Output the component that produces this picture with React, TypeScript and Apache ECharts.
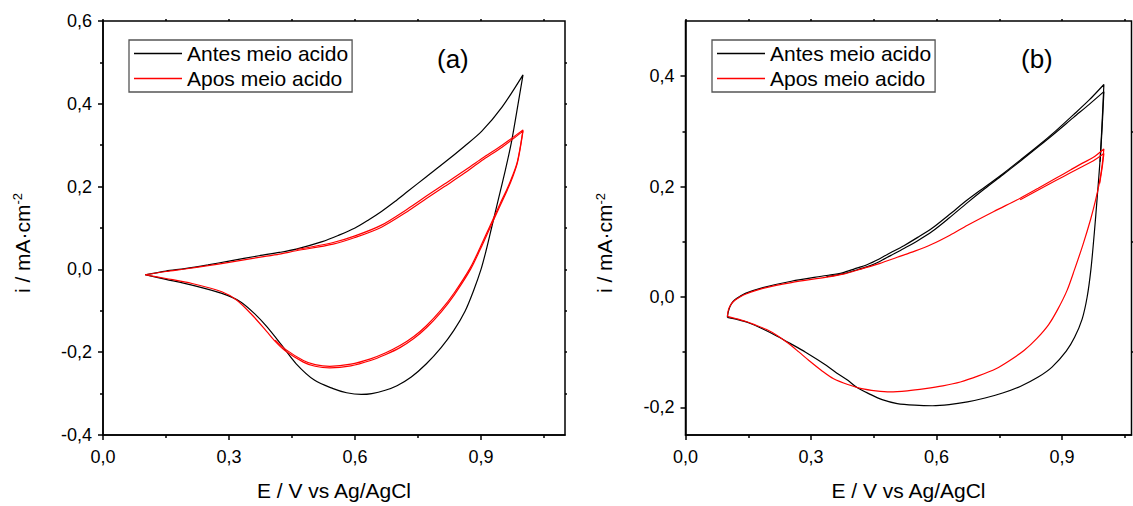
import React, { useEffect, useRef } from "react";
import * as echarts from "echarts";

// ---- Data (E / V, i / mA·cm-2) ----
const seriesNames = ["Antes meio acido", "Apos meio acido"];

// Panel (a), "Antes" loop
const antesA: number[][] = [
  [0.1, -0.013], [0.15, -0.004], [0.195, 0.002], [0.25, 0.011], [0.3, 0.02], [0.371, 0.033],
  [0.42, 0.041], [0.46, 0.049], [0.522, 0.067], [0.56, 0.082], [0.6, 0.1], [0.633, 0.12],
  [0.663, 0.14], [0.695, 0.164], [0.725, 0.188], [0.77, 0.224], [0.813, 0.258], [0.86, 0.297],
  [0.902, 0.334], [0.95, 0.392], [1.0, 0.47],
  [0.985, 0.38], [0.972, 0.305], [0.958, 0.24], [0.942, 0.172], [0.925, 0.1], [0.912, 0.045],
  [0.9, 0.0], [0.882, -0.052], [0.862, -0.101], [0.835, -0.148], [0.805, -0.189],
  [0.77, -0.228], [0.734, -0.26], [0.7, -0.281], [0.672, -0.292], [0.64, -0.3], [0.615, -0.302],
  [0.58, -0.298], [0.548, -0.288], [0.504, -0.268], [0.46, -0.228], [0.424, -0.181],
  [0.389, -0.137], [0.362, -0.108], [0.327, -0.078], [0.283, -0.058], [0.212, -0.038],
  [0.15, -0.024], [0.1, -0.013],
];

// Panel (a), "Apos" loop (two cycles, close together)
const aposA: number[][] = [
  [0.1, -0.013], [0.15, -0.005], [0.195, 0.001], [0.25, 0.009], [0.3, 0.017], [0.371, 0.029],
  [0.42, 0.037], [0.46, 0.045], [0.548, 0.061], [0.6, 0.077], [0.663, 0.102], [0.725, 0.14],
  [0.77, 0.171], [0.813, 0.2], [0.86, 0.232], [0.902, 0.263], [0.95, 0.295], [1.0, 0.334],
  [0.993, 0.29], [0.986, 0.255], [0.975, 0.222], [0.962, 0.19], [0.946, 0.155], [0.92, 0.097],
  [0.898, 0.048], [0.875, 0.0], [0.836, -0.062], [0.805, -0.103], [0.77, -0.141],
  [0.74, -0.167], [0.707, -0.189], [0.672, -0.206], [0.637, -0.22], [0.59, -0.233],
  [0.54, -0.238], [0.505, -0.234], [0.477, -0.224], [0.433, -0.196], [0.41, -0.174],
  [0.389, -0.149], [0.354, -0.109], [0.318, -0.074], [0.283, -0.054], [0.212, -0.034],
  [0.15, -0.022], [0.1, -0.013],
];
const aposA2: number[][] = [
  [0.46, 0.048], [0.548, 0.065], [0.6, 0.081], [0.663, 0.107], [0.725, 0.146],
  [0.77, 0.177], [0.813, 0.206], [0.86, 0.238], [0.902, 0.268], [0.95, 0.3], [1.0, 0.337],
  [0.993, 0.293], [0.986, 0.258], [0.975, 0.226], [0.962, 0.194], [0.946, 0.16], [0.92, 0.102],
  [0.898, 0.053], [0.875, 0.005], [0.836, -0.057], [0.805, -0.098], [0.77, -0.136],
  [0.74, -0.162], [0.707, -0.184], [0.672, -0.202], [0.637, -0.216], [0.59, -0.229],
  [0.54, -0.234], [0.505, -0.23], [0.477, -0.22], [0.433, -0.192], [0.41, -0.171],
];

// Panel (b), "Antes" loop
const antesB: number[][] = [
  [0.1, -0.037], [0.102, -0.028], [0.105, -0.02], [0.11, -0.012], [0.118, -0.005], [0.13, 0.001],
  [0.143, 0.0065], [0.185, 0.017], [0.253, 0.0285], [0.337, 0.039], [0.375, 0.044],
  [0.404, 0.051], [0.435, 0.059], [0.463, 0.069], [0.49, 0.08], [0.522, 0.093], [0.555, 0.108],
  [0.59, 0.125], [0.63, 0.149], [0.674, 0.176], [0.715, 0.199], [0.758, 0.223], [0.8, 0.248],
  [0.843, 0.274], [0.885, 0.301], [0.927, 0.33], [0.965, 0.357], [1.0, 0.385],
  [0.996, 0.32], [0.991, 0.25], [0.984, 0.18], [0.977, 0.115], [0.969, 0.05], [0.96, 0.0],
  [0.948, -0.04], [0.93, -0.073], [0.91, -0.098], [0.876, -0.127], [0.843, -0.145],
  [0.8, -0.162], [0.758, -0.174], [0.716, -0.183], [0.674, -0.19], [0.63, -0.195],
  [0.59, -0.197], [0.548, -0.196], [0.506, -0.193], [0.47, -0.186], [0.438, -0.175],
  [0.41, -0.164], [0.388, -0.151], [0.362, -0.138], [0.337, -0.124], [0.287, -0.1],
  [0.25, -0.084], [0.219, -0.071], [0.185, -0.058], [0.152, -0.047], [0.125, -0.041],
  [0.1, -0.037],
];
const antesB2: number[][] = [
  [0.337, 0.037], [0.375, 0.042], [0.404, 0.048], [0.435, 0.055], [0.463, 0.064], [0.49, 0.075],
  [0.522, 0.088], [0.555, 0.102], [0.59, 0.119], [0.63, 0.143], [0.674, 0.171], [0.715, 0.196],
  [0.758, 0.221], [0.8, 0.246], [0.843, 0.272], [0.885, 0.298], [0.927, 0.325], [0.965, 0.349],
  [1.0, 0.372], [0.996, 0.31], [0.991, 0.245],
];

// Panel (b), "Apos" loop
const aposB: number[][] = [
  [0.1, -0.035], [0.103, -0.022], [0.11, -0.012], [0.118, -0.006], [0.13, 0.0], [0.143, 0.005],
  [0.185, 0.0155], [0.253, 0.026], [0.337, 0.036], [0.38, 0.042], [0.421, 0.051], [0.465, 0.061],
  [0.506, 0.072], [0.548, 0.083], [0.59, 0.096], [0.632, 0.112], [0.674, 0.13], [0.737, 0.155],
  [0.8, 0.179], [0.843, 0.197], [0.885, 0.215], [0.92, 0.23], [0.95, 0.243], [0.975, 0.253],
  [1.0, 0.268],
  [0.996, 0.24], [0.99, 0.21], [0.98, 0.175], [0.968, 0.14], [0.95, 0.095], [0.93, 0.05],
  [0.912, 0.012], [0.89, -0.022], [0.868, -0.05], [0.84, -0.075], [0.809, -0.097],
  [0.775, -0.115], [0.742, -0.13], [0.7, -0.143], [0.657, -0.154], [0.615, -0.161],
  [0.573, -0.166], [0.53, -0.17], [0.489, -0.172], [0.455, -0.17], [0.421, -0.166],
  [0.39, -0.159], [0.354, -0.148], [0.325, -0.133], [0.295, -0.115], [0.27, -0.099],
  [0.244, -0.083], [0.22, -0.07], [0.194, -0.059], [0.165, -0.05], [0.143, -0.044],
  [0.12, -0.039], [0.1, -0.035],
];
const aposB2: number[][] = [
  [0.8, 0.176], [0.843, 0.194], [0.885, 0.211], [0.92, 0.225], [0.95, 0.237], [0.975, 0.247],
  [1.0, 0.26], [0.996, 0.235], [0.99, 0.206],
];

// ---- Axis ticks ----
const xMajor = [0, 0.3, 0.6, 0.9];
const xMinor = [0.15, 0.45, 0.75, 1.05];
const xAll = [0, 0.15, 0.3, 0.45, 0.6, 0.75, 0.9, 1.05];
const yMajorA = [-0.4, -0.2, 0, 0.2, 0.4, 0.6];
const yMinorA = [-0.3, -0.1, 0.1, 0.3, 0.5];
const yAllA = [-0.3, -0.2, -0.1, 0, 0.1, 0.2, 0.3, 0.4, 0.5];
const yMajorB = [-0.2, 0, 0.2, 0.4];
const yMinorB = [-0.1, 0.1, 0.3];

const FONT = "'Liberation Sans', Arial, sans-serif";
const fmt = (v: number) => v.toFixed(1).replace(".", ",");
const BLACK_LINE = { color: "#000", width: 1.5 };

function majorX(gridIndex: number, max: number) {
  return {
    type: "value", gridIndex, min: 0, max, position: "bottom",
    axisLine: { onZero: false, lineStyle: BLACK_LINE },
    axisTick: { customValues: xMajor, length: 5, lineStyle: BLACK_LINE },
    axisLabel: { customValues: xMajor, formatter: fmt, fontSize: 18, color: "#000", margin: 13, fontFamily: FONT },
    splitLine: { show: false },
    name: "E / V vs Ag/AgCl", nameLocation: "middle", nameGap: 45,
    nameTextStyle: { fontSize: 21, color: "#000", fontFamily: FONT },
  };
}
function tickOnlyAxis(gridIndex: number, min: number, max: number, position: string, ticks: number[], length: number) {
  return {
    type: "value", gridIndex, min, max, position,
    axisLine: { show: false, onZero: false },
    axisTick: { customValues: ticks, length, lineStyle: BLACK_LINE },
    axisLabel: { show: false },
    splitLine: { show: false },
  };
}
function majorY(gridIndex: number, min: number, max: number, ticks: number[], gap: number) {
  return {
    type: "value", gridIndex, min, max, position: "left",
    axisLine: { onZero: false, lineStyle: BLACK_LINE },
    axisTick: { customValues: ticks, length: 5, lineStyle: BLACK_LINE },
    axisLabel: { customValues: ticks, formatter: fmt, fontSize: 18, color: "#000", margin: 11, fontFamily: FONT },
    splitLine: { show: false },
    name: "i / mA·cm{sup|-2}", nameLocation: "middle", nameGap: gap,
    nameTextStyle: {
      fontSize: 21, color: "#000", fontFamily: FONT, padding: [0, 30, 0, 0],
      rich: { sup: { fontSize: 13, verticalAlign: "top", color: "#000", fontFamily: FONT, padding: [0, 0, 9, 0] } },
    },
  };
}

function line(name: string, color: string, data: number[][], xi: number, yi: number) {
  return {
    type: "line", name, data, xAxisIndex: xi, yAxisIndex: yi,
    symbol: "none", showSymbol: false, smooth: 0.3,
    lineStyle: { color, width: 1.2 }, itemStyle: { color },
  };
}

function legend(left: number) {
  return {
    data: seriesNames, left, top: 40, orient: "vertical",
    icon: "rect", itemWidth: 48, itemHeight: 1.5, itemGap: 4,
    padding: [3, 4, 3, 5],
    borderColor: "#555", borderWidth: 1.3,
    textStyle: { fontSize: 21, color: "#000", fontFamily: FONT },
  };
}

export default function App() {
  const ref = useRef<HTMLDivElement>(null);
  useEffect(() => {
    if (!ref.current) return;
    const chart = echarts.init(ref.current, undefined, { renderer: "svg" });
    chart.setOption({
      animation: false,
      backgroundColor: "#fff",
      textStyle: { fontFamily: FONT },
      title: [
        { text: "(a)", left: 437, top: 46, padding: 0, textStyle: { fontSize: 26, fontWeight: "normal", color: "#000", fontFamily: FONT } },
        { text: "(b)", left: 1021, top: 46, padding: 0, textStyle: { fontSize: 26, fontWeight: "normal", color: "#000", fontFamily: FONT } },
      ],
      legend: [legend(129), legend(712)],
      grid: [
        { left: 103, top: 21, width: 462, height: 421, show: true, borderColor: "#000", borderWidth: 1.5, backgroundColor: "transparent" },
        { left: 685.5, top: 21, width: 446, height: 421, show: true, borderColor: "#000", borderWidth: 1.5, backgroundColor: "transparent" },
      ],
      xAxis: [
        majorX(0, 1.1), tickOnlyAxis(0, 0, 1.1, "bottom", xMinor, 3), tickOnlyAxis(0, 0, 1.1, "top", xAll, 2),
        majorX(1, 1.066), tickOnlyAxis(1, 0, 1.066, "bottom", xMinor, 3), tickOnlyAxis(1, 0, 1.066, "top", xAll, 2),
      ],
      yAxis: [
        majorY(0, -0.4, 0.6, yMajorA, 70), tickOnlyAxis(0, -0.4, 0.6, "left", yMinorA, 3), tickOnlyAxis(0, -0.4, 0.6, "right", yAllA, 2),
        majorY(1, -0.25, 0.5, yMajorB, 70), tickOnlyAxis(1, -0.25, 0.5, "left", yMinorB, 3), tickOnlyAxis(1, -0.25, 0.5, "right", yMinorB, 2),
      ],
      series: [
        line(seriesNames[0], "#000000", antesA, 0, 0),
        line(seriesNames[1], "#ff0000", aposA, 0, 0),
        line(seriesNames[1], "#ff0000", aposA2, 0, 0),
        line(seriesNames[0], "#000000", antesB, 3, 3),
        line(seriesNames[0], "#000000", antesB2, 3, 3),
        line(seriesNames[1], "#ff0000", aposB, 3, 3),
        line(seriesNames[1], "#ff0000", aposB2, 3, 3),
      ],
    });
    return () => chart.dispose();
  }, []);
  return <div ref={ref} style={{ position: "fixed", left: 0, top: 0, width: 1133, height: 506 }} />;
}
